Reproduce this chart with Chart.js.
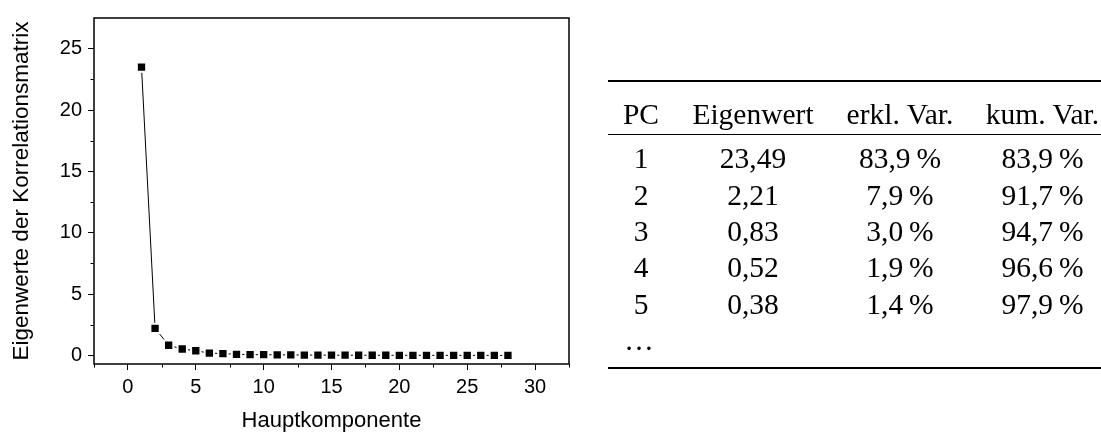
<!DOCTYPE html>
<html>
<head>
<meta charset="utf-8">
<script src="https://cdn.jsdelivr.net/npm/chart.js@4.4.1/dist/chart.umd.min.js"></script>
<style>
  html, body { margin: 0; padding: 0; background: #fff; }
  #wrap { position: relative; width: 1101px; height: 434px; overflow: hidden; background: #fff; }
  #cv { position: absolute; left: 0; top: 0; }
  .rule { position: absolute; background: #000; }
  .cell { position: absolute; font-family: 'Liberation Serif', 'Times New Roman', serif; color: #000; white-space: nowrap; text-align: center; width: 200px; }
</style>
</head>
<body>
<div id="wrap">
  <canvas id="cv" width="600" height="434"></canvas>
</div>
<script>
// ---------- data ----------
const components = [1, 2, 3, 4, 5, 6, 7, 8, 9, 10, 11, 12, 13, 14, 15, 16, 17, 18, 19, 20, 21, 22, 23, 24, 25, 26, 27, 28];
const eigenvalues = [23.49, 2.21, 0.83, 0.52, 0.38, 0.19, 0.15, 0.09, 0.07, 0.06, 0.05, 0.04, 0.03, 0.025,
                     0.02, 0.018, 0.015, 0.012, 0.01, 0.009, 0.008, 0.007, 0.006, 0.005, 0.004, 0.003, 0.002, 0.001];

const xTitle = 'Hauptkomponente';
const yTitle = 'Eigenwerte der Korrelationsmatrix';

// axis tick values (major labelled every 5, minor every 2.5)
const xTickValues = [-2.5, 0, 2.5, 5, 7.5, 10, 12.5, 15, 17.5, 20, 22.5, 25, 27.5, 30, 32.5];
const yTickValues = [0, 2.5, 5, 7.5, 10, 12.5, 15, 17.5, 20, 22.5, 25];

// table
const tableHeader = ['PC', 'Eigenwert', 'erkl. Var.', 'kum. Var.'];
const tablePC = ['1', '2', '3', '4', '5'];
const tableEigen = ['23,49', '2,21', '0,83', '0,52', '0,38'];
const tableExpl = ['83,9\u2009%', '7,9\u2009%', '3,0\u2009%', '1,9\u2009%', '1,4\u2009%'];
const tableCum = ['83,9\u2009%', '91,7\u2009%', '94,7\u2009%', '96,6\u2009%', '97,9\u2009%'];

// ---------- chart ----------
const isMajor = v => Math.abs(v / 5 - Math.round(v / 5)) < 1e-9;
const isMinor = v => !isMajor(v);

const framePlugin = {
  id: 'frame',
  afterDraw(chart) {
    const { ctx, chartArea: a, scales } = chart;
    ctx.save();
    ctx.strokeStyle = '#000';
    ctx.lineWidth = 1.5;
    ctx.strokeRect(a.left, a.top, a.right - a.left, a.bottom - a.top);
    ctx.lineWidth = 1;
    ctx.beginPath();
    scales.x.ticks.forEach(t => {
      if (isMinor(t.value)) {
        const px = Math.round(scales.x.getPixelForValue(t.value)) + 0.5;
        ctx.moveTo(px, a.bottom);
        ctx.lineTo(px, a.bottom + 3.5);
      }
    });
    scales.y.ticks.forEach(t => {
      if (isMinor(t.value)) {
        const py = Math.round(scales.y.getPixelForValue(t.value)) + 0.5;
        ctx.moveTo(a.left, py);
        ctx.lineTo(a.left - 3.5, py);
      }
    });
    ctx.stroke();
    ctx.restore();
  }
};

const tickFont = { family: "'Liberation Sans', Arial, sans-serif", size: 20 };

new Chart(document.getElementById('cv'), {
  type: 'line',
  data: {
    datasets: [{
      data: components.map((c, i) => ({ x: c, y: eigenvalues[i] })),
      borderColor: '#000',
      borderWidth: 1,
      tension: 0,
      pointStyle: 'rect',
      pointRadius: 6.6,
      pointHoverRadius: 6.6,
      pointBackgroundColor: '#000',
      pointBorderColor: '#fff',
      pointBorderWidth: 2,
      clip: false
    }]
  },
  options: {
    responsive: false,
    animation: false,
    devicePixelRatio: 1,
    layout: { padding: { top: 13, right: 31, left: 0, bottom: 0 } },
    plugins: { legend: { display: false }, tooltip: { enabled: false } },
    scales: {
      x: {
        type: 'linear',
        min: -2.5, max: 32.5,
        afterBuildTicks: s => { s.ticks = xTickValues.map(v => ({ value: v })); },
        afterFit: s => { s.height = 70; },
        border: { display: false },
        grid: {
          drawOnChartArea: false, drawTicks: true, tickLength: 6, lineWidth: 1,
          color: c => (c.tick && isMajor(c.tick.value)) ? '#000' : 'rgba(0,0,0,0)'
        },
        ticks: {
          autoSkip: false, maxRotation: 0, padding: 5,
          color: '#000', font: tickFont,
          callback: v => isMajor(v) ? String(Math.round(v)) : ''
        },
        title: {
          display: true, text: xTitle, color: '#000',
          font: { family: "'Liberation Sans', Arial, sans-serif", size: 22 },
          padding: { top: 0, bottom: 0 }
        }
      },
      y: {
        type: 'linear',
        min: -0.7, max: 27.5,
        afterBuildTicks: s => { s.ticks = yTickValues.map(v => ({ value: v })); },
        afterFit: s => { s.width = 94; },
        border: { display: false },
        grid: {
          drawOnChartArea: false, drawTicks: true, tickLength: 6, lineWidth: 1,
          color: c => (c.tick && isMajor(c.tick.value)) ? '#000' : 'rgba(0,0,0,0)'
        },
        ticks: {
          autoSkip: false, padding: 6,
          color: '#000', font: tickFont,
          callback: v => isMajor(v) ? String(Math.round(v)) : ''
        },
        title: {
          display: true, text: yTitle, color: '#000',
          font: { family: "'Liberation Sans', Arial, sans-serif", size: 22.5 },
          padding: { top: 8.5, bottom: 0 }
        }
      }
    }
  },
  plugins: [framePlugin]
});

// ---------- table (HTML text) ----------
const wrap = document.getElementById('wrap');
const fs = 29.5;
const colCenters = [641, 753, 900, 1042.5];
function addRule(top, h) {
  const d = document.createElement('div');
  d.className = 'rule';
  d.style.left = '608px'; d.style.width = '520px';
  d.style.top = top + 'px'; d.style.height = h + 'px';
  wrap.appendChild(d);
}
function addCell(text, cx, baseline) {
  const d = document.createElement('div');
  d.className = 'cell';
  d.textContent = text;
  d.style.fontSize = fs + 'px';
  d.style.lineHeight = fs + 'px';
  d.style.top = (baseline - 0.8375 * fs) + 'px';
  d.style.left = (cx - 100) + 'px';
  wrap.appendChild(d);
}
addRule(80, 2);
addRule(133.5, 1.3);
addRule(367, 2);
tableHeader.forEach((t, i) => addCell(t, colCenters[i], 124.3));
const rowBase = [169, 205.4, 241.8, 278.2, 314.5];
const cols = [tablePC, tableEigen, tableExpl, tableCum];
rowBase.forEach((b, r) => cols.forEach((col, c) => addCell(col[r], colCenters[c], b)));
addCell('\u2026', 639, 351);
</script>
</body>
</html>
